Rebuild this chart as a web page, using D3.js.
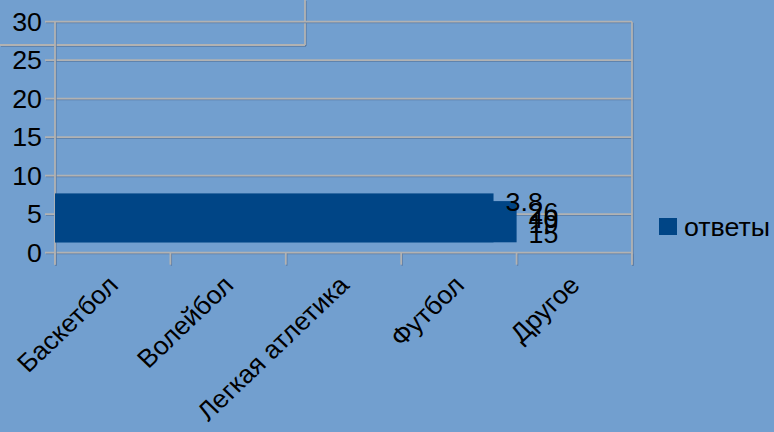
<!DOCTYPE html>
<html><head><meta charset="utf-8">
<script src="https://cdn.jsdelivr.net/npm/d3@7"></script>
<style>html,body{margin:0;padding:0;background:#729fcf;}svg{display:block;}</style>
</head><body>
<svg id="c" width="774" height="432"></svg>
<script>
// ---- data ----
const categories = ["Баскетбол", "Волейбол", "Легкая атлетика", "Футбол", "Другое"];
const seriesName = "ответы";
const labels = ["3.8", "26", "40", "19", "15"];
const yTicks = [0, 5, 10, 15, 20, 25, 30];
// the rendered (collapsed) bars: extent along category axis and top value
const barEnds = [4.0, 3.8];
const barTops = [6.7, 7.7];
const barBase = 1.35;

// ---- drawing ----
(function () {
const svg = d3.select("#c");
const W = 774, H = 432;
const pLeft = 55, pRight = 632, pTop = 21.7, pBottom = 252.7;
const font = "'Liberation Sans', Arial, sans-serif";
const fs = 25.5;
const sx = 1.05; // slight horizontal stretch of the lettering

svg.append("rect").attr("width", W).attr("height", H).attr("fill", "#729fcf");

const y = d3.scaleLinear().domain([0, 30]).range([pBottom, pTop]);
const xBand = d3.scaleBand().domain(categories).range([pLeft, pRight]);
const xLin = d3.scaleLinear().domain([0, categories.length]).range([pLeft, pRight]);

function gline(x1, y1, x2, y2) {
  svg.append("line").attr("x1", x1 + 1).attr("y1", y1 + 1).attr("x2", x2 + 1).attr("y2", y2 + 1)
    .attr("stroke", "#5a7aa2").attr("stroke-width", 1.3);
  svg.append("line").attr("x1", x1).attr("y1", y1).attr("x2", x2).attr("y2", y2)
    .attr("stroke", "#b2b2b2").attr("stroke-width", 1.8);
}

// stray frame box top-left
gline(0, 45, 305, 45);
gline(305, 0, 305, 45);

// horizontal gridlines + y ticks
yTicks.forEach(t => gline(45, y(t), pRight, y(t)));
// left and right verticals
gline(pLeft, pTop, pLeft, pBottom + 12);
gline(pRight, pTop, pRight, pBottom + 12);
// x ticks at band boundaries
d3.range(categories.length + 1).forEach(i => gline(xLin(i), pBottom, xLin(i), pBottom + 12));

// bars
svg.selectAll("rect.bar").data(barEnds).enter().append("rect")
  .attr("class", "bar")
  .attr("x", xLin(0))
  .attr("width", d => xLin(d) - xLin(0))
  .attr("y", (d, i) => y(barTops[i]))
  .attr("height", (d, i) => y(barBase) - y(barTops[i]))
  .attr("fill", "#004586");

function txt(x, yy, s, anchor, rot) {
  return svg.append("text")
    .attr("transform", `translate(${x},${yy}) scale(${sx},1)` + (rot ? ` rotate(${rot})` : ""))
    .attr("text-anchor", anchor || "start").attr("font-family", font).attr("font-size", fs)
    .attr("fill", "#000").text(s);
}

// y axis labels
yTicks.forEach(t => txt(42, y(t) + fs * 0.36, t, "end"));

// x labels rotated
categories.forEach(c => txt(xBand(c) + xBand.bandwidth() / 2 + 7, pBottom + 34, c, "end", -45));

// data labels (overlapping, stacked at the bar end)
const lblOffsets = [[-11, -31], [12, -21], [12, -14], [12, -9], [12, 1]];
labels.forEach((l, i) => txt(xLin(barEnds[0]) + lblOffsets[i][0], y(barBase) + lblOffsets[i][1], l));

// legend
svg.append("rect").attr("x", 659).attr("y", 218).attr("width", 18).attr("height", 17).attr("fill", "#004586");
txt(684, 236, seriesName);
})();
</script>
</body></html>
